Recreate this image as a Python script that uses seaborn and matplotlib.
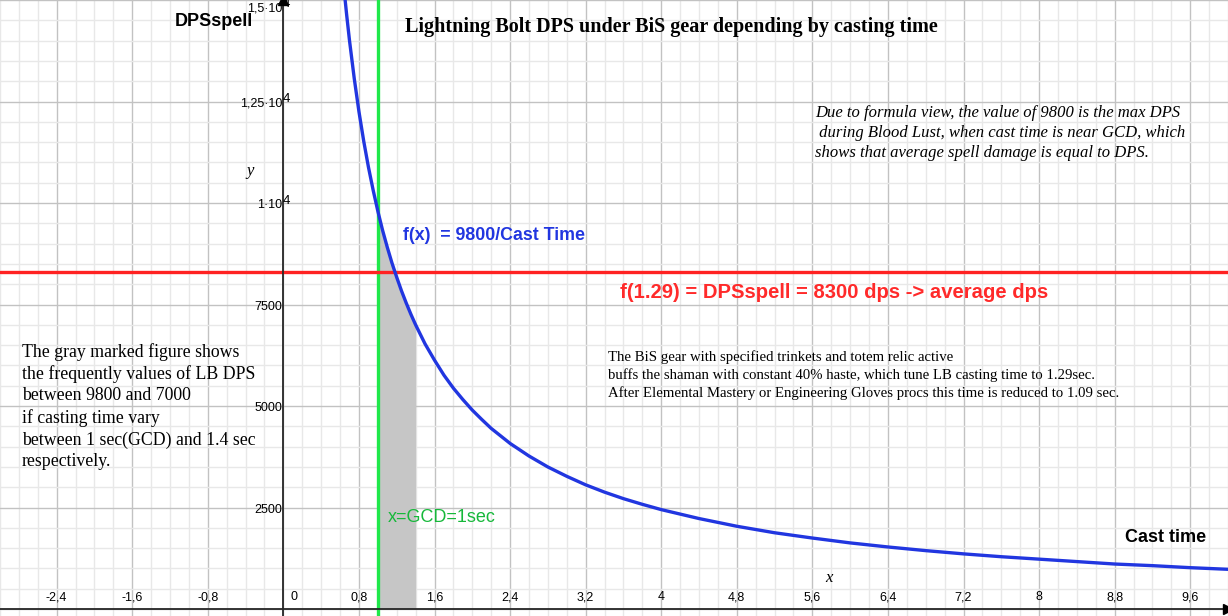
import numpy as np
import matplotlib
matplotlib.use('Agg')
import matplotlib.pyplot as plt
from matplotlib.ticker import MultipleLocator
import seaborn as sns

cast_time = np.array([0.64, 0.67, 0.7, 0.75, 0.8, 0.85, 0.9, 0.95, 1.0, 1.05, 1.1, 1.15, 1.2,
                      1.25, 1.3, 1.35, 1.4, 1.5, 1.6, 1.7, 1.8, 1.9, 2.0, 2.1, 2.2, 2.4, 2.6,
                      2.8, 3.0, 3.2, 3.4, 3.6, 3.8, 4.0, 4.4, 4.8, 5.2, 5.6, 6.0, 6.4, 6.8,
                      7.2, 7.6, 8.0, 8.4, 8.8, 9.2, 9.6, 10.0])
dps = np.array([15310, 14630, 14000, 13070, 12250, 11530, 10890, 10320, 9800, 9330, 8910,
                8520, 8170, 7840, 7540, 7260, 7000, 6530, 6130, 5760, 5440, 5160, 4900, 4670,
                4450, 4080, 3770, 3500, 3270, 3060, 2880, 2720, 2580, 2450, 2230, 2040, 1880,
                1750, 1630, 1530, 1440, 1360, 1290, 1230, 1170, 1110, 1070, 1020, 980])

gcd = 1.0
slow_cast = 1.4
avg_dps = 8300

x_ticks = [-2.4, -1.6, -0.8, 0, 0.8, 1.6, 2.4, 3.2, 4, 4.8, 5.6, 6.4, 7.2, 8, 8.8, 9.6]
x_tick_labels = ['-2,4', '-1,6', '-0,8', '0', '0,8', '1,6', '2,4', '3,2', '4', '4,8',
                 '5,6', '6,4', '7,2', '8', '8,8', '9,6']
y_ticks = [2500, 5000, 7500, 10000, 12500, 15000]
y_tick_labels = ['2500', '5000', '7500', '1·10', '1,25·10', '1,5·10']
y_tick_exponents = ['', '', '', '4', '4', '4']

note_left = ['The gray marked figure shows',
             'the frequently values of LB DPS',
             'between 9800 and 7000',
             'if casting time vary',
             'between 1 sec(GCD) and 1.4 sec',
             'respectively.']
note_right = ['Due to formula view, the value of 9800 is the max DPS',
              ' during Blood Lust, when cast time is near GCD, which',
              'shows that average spell damage is equal to DPS.']
note_mid = ['The BiS gear with specified trinkets and totem relic active',
            'buffs the shaman with constant 40% haste, which tune LB casting time to 1.29sec.',
            'After Elemental Mastery or Engineering Gloves procs this time is reduced to 1.09 sec.']

sns.set_style('white')
plt.rcParams['font.family'] = ['Liberation Sans', 'DejaVu Sans']
plt.rcParams['text.color'] = 'black'

W, H = 1228, 616
fig = plt.figure(figsize=(W / 100, H / 100), dpi=100)
ax = fig.add_axes([0, 0, 1, 1])
ax.set_xlim(-3.0, 10.0)
ax.set_ylim(-170, 15000)


def px(x, y):
    # pixel position (from top-left) -> axes fraction
    return x / W, 1 - y / H


# grid
ax.xaxis.set_major_locator(MultipleLocator(0.8))
ax.xaxis.set_minor_locator(MultipleLocator(0.2))
ax.yaxis.set_major_locator(MultipleLocator(2500))
ax.yaxis.set_minor_locator(MultipleLocator(500))
ax.set_axisbelow(True)
ax.grid(which='minor', color='#e8e8e8', lw=1.0, zorder=0)
ax.grid(which='major', color='#c2c2c2', lw=1.0, zorder=0)

# axes through the origin
for side in ['top', 'right']:
    ax.spines[side].set_visible(False)
ax.spines['left'].set_position(('data', 0))
ax.spines['bottom'].set_position(('data', 0))
for side in ['left', 'bottom']:
    ax.spines[side].set_linewidth(1.3)
    ax.spines[side].set_zorder(2.5)
ax.tick_params(which='major', direction='inout', length=8, width=1.3, color='black',
               labelbottom=False, labelleft=False)
ax.tick_params(which='minor', direction='inout', length=5, width=1.1, color='black')
ax.plot([1], [0], marker='>', color='black', ms=7, transform=ax.get_yaxis_transform(),
        clip_on=False, zorder=3)
ax.plot([0], [1], marker='^', color='black', ms=7, transform=ax.get_xaxis_transform(),
        clip_on=False, zorder=3)

# tick labels drawn above the x axis / left of the y axis
for t, lab in zip(x_ticks, x_tick_labels):
    if t == 0:
        ax.text(t + 0.08, 290, lab, ha='left', va='center', fontsize=9)
    else:
        ax.text(t, 290, lab, ha='center', va='center', fontsize=9)
for t, lab, ex in zip(y_ticks, y_tick_labels, y_tick_exponents):
    ty = min(t - 50, 14780)  # top label would fall off the picture
    ax.text(-0.01, ty, lab, ha='right', va='center', fontsize=9)
    if ex:
        ax.text(-0.01, ty + 110, ex, ha='left', va='center', fontsize=9.5)

# gray area between GCD and 1.4 sec
mask = (cast_time >= gcd) & (cast_time <= slow_cast)
ax.fill_between(cast_time[mask], 0, dps[mask], color='#c6c6c6', lw=0, zorder=1.5)

ax.axvline(gcd, color='#1fe84a', lw=2.4, zorder=2)
ax.axhline(avg_dps, color='#ff2222', lw=2.4, zorder=2)
sns.lineplot(x=cast_time, y=dps, ax=ax, color='#2136e0', linewidth=2.4,
             sort=False, estimator=None, zorder=3)

# annotations
serif = ['Liberation Serif', 'DejaVu Serif']
ax.text(*px(405, 27), 'Lightning Bolt DPS under BiS gear depending by casting time',
        transform=ax.transAxes, family=serif, fontsize=14.5, fontweight='bold',
        ha='left', va='center')
ax.text(*px(175, 21), 'DPSspell', transform=ax.transAxes, fontsize=13,
        fontweight='bold', ha='left', va='center')
ax.text(*px(1125, 537), 'Cast time', transform=ax.transAxes, fontsize=13,
        fontweight='bold', ha='left', va='center')
ax.text(*px(250, 171), 'y', transform=ax.transAxes, family=serif, style='italic',
        fontsize=12, ha='center', va='center')
ax.text(*px(829, 578), 'x', transform=ax.transAxes, family=serif, style='italic',
        fontsize=12, ha='center', va='center')
ax.text(*px(403, 235), 'f(x)  = 9800/Cast Time', transform=ax.transAxes,
        color='#2136e0', fontsize=12.8, fontweight='bold', ha='left', va='center')
ax.text(*px(620, 292), 'f(1.29) = DPSspell = 8300 dps -> average dps',
        transform=ax.transAxes, color='#ff2a2a', fontsize=14.6, fontweight='bold',
        ha='left', va='center')
ax.text(*px(388, 517), 'x=GCD=1sec', transform=ax.transAxes, color='#16b83a',
        fontsize=13, ha='left', va='center')

for i, line in enumerate(note_left):
    ax.text(*px(22, 352 + 22 * i), line, transform=ax.transAxes, family=serif,
            fontsize=12.8, ha='left', va='center')
for i, line in enumerate(note_right):
    ax.text(*px(815, 113 + 20 * i), line, transform=ax.transAxes, family=serif,
            style='italic', fontsize=12, ha='left', va='center')
for i, line in enumerate(note_mid):
    ax.text(*px(608, 357 + 18 * i), line, transform=ax.transAxes, family=serif,
            fontsize=10.6, ha='left', va='center')

fig.savefig('out.png', dpi=100)
